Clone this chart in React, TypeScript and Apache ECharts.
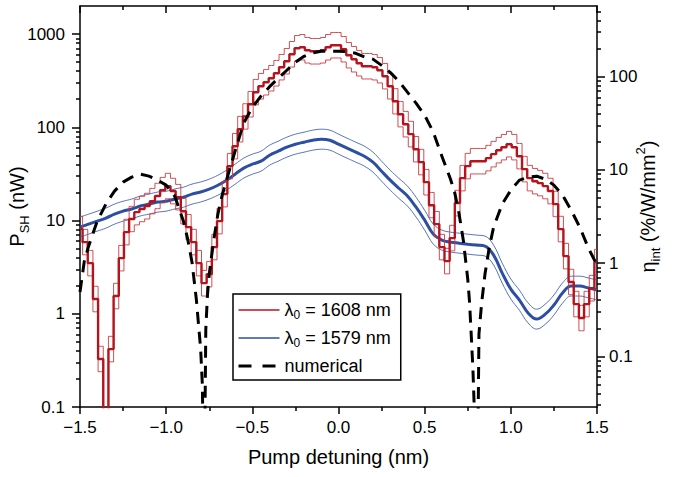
import React, { useEffect, useRef } from "react";
import * as echarts from "echarts";

// ---------- data ----------
const xTickValues = [-1.5, -1.0, -0.5, 0.0, 0.5, 1.0, 1.5];
const pTickValues = [0.1, 1, 10, 100, 1000];
const etaTickValues = [0.1, 1, 10, 100];
const P_MIN = 0.1;
const P_MAX = 2000;
const ETA_PER_P = 0.2861; // right-axis (η_int) value that sits at P_SH = 1 nW

// λ0 = 1608 nm, sampled every 0.03 nm from -1.5 nm (nW)
const RED_START = -1.5;
const RED_STEP = 0.03;
const red1608 = [
  8.09, 5.87, 3.49, 1.44, 0.327, 0.07, 0.418, 1.55, 3.95, 7.51,
  10.4, 12.3, 13.3, 14.3, 16.1, 18.3, 21.2, 23.4, 20.7, 17.8,
  12.6, 8.5, 5.87, 3.49, 2.13, 2.66, 5.19, 9.85, 19.2, 38.3,
  62.7, 95.4, 131, 177, 238, 276, 304, 336, 380, 441,
  511, 607, 704, 722, 670, 654, 654, 670, 722, 759,
  759, 687, 593, 537, 486, 452, 452, 441, 409, 353,
  276, 190, 138, 108, 84.4, 58.2, 42.3, 25.8, 14.6, 9.15,
  5.19, 3.67, 6.48, 15.4, 28.5, 38.3, 43.3, 43.3, 43.3, 46.7,
  51.5, 56.8, 61.2, 65.9, 61.2, 49.0, 35.6, 28.5, 26.4, 25.2,
  23.4, 20.7, 15.0, 8.09, 4.15, 2.19, 1.27, 0.9, 1.27, 1.88,
  3.58,
];
const red1608Upper = [
  11.1, 8.04, 4.78, 1.97, 0.448, 0.096, 0.573, 2.12, 5.41, 10.3,
  14.2, 16.9, 18.2, 19.6, 22.1, 25.1, 29.0, 32.1, 28.4, 24.4,
  17.3, 11.6, 8.04, 4.78, 2.92, 3.64, 7.11, 13.5, 26.3, 52.5,
  85.9, 131, 179, 242, 326, 378, 416, 460, 521, 604,
  700, 832, 964, 989, 918, 896, 896, 918, 989, 1040,
  1040, 941, 812, 736, 666, 619, 619, 604, 560, 484,
  378, 260, 189, 148, 116, 79.7, 58.0, 35.3, 20.0, 12.5,
  7.11, 5.03, 8.88, 21.1, 39.0, 52.5, 59.3, 59.3, 59.3, 64.0,
  70.6, 77.8, 83.8, 90.3, 83.8, 67.1, 48.8, 39.0, 36.2, 34.5,
  32.1, 28.4, 20.6, 11.1, 5.69, 3.0, 1.74, 1.23, 1.74, 2.58,
  4.9,
];
const red1608Lower = [
  5.91, 4.29, 2.55, 1.05, 0.239, 0.051, 0.305, 1.13, 2.88, 5.48,
  7.59, 8.98, 9.71, 10.4, 11.8, 13.4, 15.5, 17.1, 15.1, 13.0,
  9.2, 6.21, 4.29, 2.55, 1.55, 1.94, 3.79, 7.19, 14.0, 28.0,
  45.8, 69.6, 95.6, 129, 174, 201, 222, 245, 277, 322,
  373, 443, 514, 527, 489, 477, 477, 489, 527, 554,
  554, 502, 433, 392, 355, 330, 330, 322, 299, 258,
  201, 139, 101, 78.8, 61.6, 42.5, 30.9, 18.8, 10.7, 6.68,
  3.79, 2.68, 4.73, 11.2, 20.8, 28.0, 31.6, 31.6, 31.6, 34.1,
  37.6, 41.5, 44.7, 48.1, 44.7, 35.8, 26.0, 20.8, 19.3, 18.4,
  17.1, 15.1, 11.0, 5.91, 3.03, 1.6, 0.927, 0.657, 0.927, 1.37,
  2.61,
];

// λ0 = 1579 nm, sampled every 0.05 nm from -1.5 nm (nW)
const BLUE_START = -1.5;
const BLUE_STEP = 0.05;
const blue1579 = [
  8.5, 9.15, 9.85, 10.6, 11.7, 12.6, 13.3, 14.3, 15.0, 15.8,
  16.1, 17.0, 17.8, 19.2, 20.2, 21.7, 23.9, 27.1, 31.4, 36.5,
  40.2, 43.3, 50.2, 55.4, 61.2, 65.9, 69.2, 72.7, 74.5, 72.7,
  65.9, 59.7, 54.1, 49.0, 42.3, 33.8, 27.1, 22.2, 18.3, 13.9,
  10.1, 7.15, 6.17, 5.87, 5.72, 5.58, 5.45, 5.32, 4.26, 2.73,
  1.84, 1.4, 1.02, 0.877, 0.99, 1.24, 1.67, 1.98, 1.98, 1.89,
  1.8,
];
const blue1579Upper = [
  10.9, 11.7, 12.6, 13.6, 15.0, 16.1, 17.0, 18.3, 19.2, 20.2,
  20.6, 21.8, 22.8, 24.6, 25.9, 27.8, 30.6, 34.7, 40.2, 46.7,
  51.5, 55.4, 64.3, 70.9, 78.3, 84.4, 88.6, 93.1, 95.4, 93.1,
  84.4, 76.4, 69.2, 62.7, 54.1, 43.3, 34.7, 28.4, 23.4, 17.8,
  12.9, 9.15, 7.9, 7.51, 7.32, 7.14, 6.98, 6.81, 5.45, 3.49,
  2.36, 1.79, 1.31, 1.12, 1.27, 1.59, 2.14, 2.53, 2.53, 2.42,
  2.3,
];
const blue1579Lower = [
  6.64, 7.15, 7.7, 8.28, 9.14, 9.84, 10.4, 11.2, 11.7, 12.3,
  12.6, 13.3, 13.9, 15.0, 15.8, 17.0, 18.7, 21.2, 24.5, 28.5,
  31.4, 33.8, 39.2, 43.3, 47.8, 51.5, 54.1, 56.8, 58.2, 56.8,
  51.5, 46.6, 42.3, 38.3, 33.0, 26.4, 21.2, 17.3, 14.3, 10.9,
  7.89, 5.59, 4.82, 4.59, 4.47, 4.36, 4.26, 4.16, 3.33, 2.13,
  1.44, 1.09, 0.797, 0.685, 0.773, 0.969, 1.3, 1.55, 1.55, 1.48,
  1.41,
];

// numerical η_int (%/W/mm²) vs detuning (nm)
const numDetuning = [
  -1.5, -1.475, -1.45, -1.4, -1.35, -1.3, -1.25, -1.2, -1.15, -1.1,
  -1.05, -1.0, -0.95, -0.9, -0.875, -0.85, -0.825, -0.8, -0.79, -0.78,
  -0.77, -0.76, -0.75, -0.725, -0.7, -0.675, -0.65, -0.6, -0.55, -0.5,
  -0.45, -0.4, -0.35, -0.3, -0.25, -0.2, -0.15, -0.1, -0.05, 0.0,
  0.05, 0.1, 0.15, 0.2, 0.25, 0.3, 0.35, 0.4, 0.45, 0.5,
  0.55, 0.6, 0.65, 0.675, 0.7, 0.725, 0.75, 0.76, 0.77, 0.78,
  0.79, 0.805, 0.815, 0.82, 0.83, 0.85, 0.875, 0.9, 0.95, 1.0,
  1.05, 1.1, 1.15, 1.2, 1.25, 1.3, 1.35, 1.4, 1.45, 1.5,
];
const numEta = [
  0.49, 1.05, 1.52, 2.82, 4.29, 5.91, 7.38, 8.35, 9.0, 8.56,
  7.76, 6.86, 5.22, 2.82, 1.81, 1.02, 0.411, 0.12, 0.05, 0.002,
  0.196, 0.466, 0.762, 1.72, 3.35, 5.36, 7.76, 15.9, 31.7, 47.0,
  61.7, 78.0, 96.1, 117, 143, 165, 180, 187, 187, 187,
  185, 178, 163, 154, 132, 111, 89.3, 68.1, 51.9, 38.6,
  25.4, 14.0, 7.94, 5.63, 3.35, 1.72, 0.674, 0.392, 0.173, 0.073,
  0.021, 0.002, 0.173, 0.222, 0.364, 0.762, 1.48, 2.43, 4.29, 6.06,
  7.76, 8.35, 8.56, 7.94, 6.86, 5.36, 3.7, 2.43, 1.45, 0.95,
];

// ---------- style ----------
const FONT = '"Liberation Sans", Arial, Helvetica, sans-serif';
const RED = "#b5141c";
const RED_LIGHT = "#cc3a40";
const BLUE = "#2c4ea3";
const BLUE_LIGHT = "#4463b4";
const AXIS_W = 1.5;

const NAME_1608 = "λ0 = 1608 nm";
const NAME_1579 = "λ0 = 1579 nm";
const NAME_NUM = "numerical";

const log10 = (v: number) => Math.log10(v);
const fmtLog = (v: number) => {
  const p = Math.pow(10, v);
  if (p < 0.95) return p.toFixed(1);
  return String(Math.round(p));
};
const fmtX = (v: number) => (v < 0 ? "\u2212" : "") + Math.abs(v).toFixed(1);

const leftMin = log10(P_MIN);
const leftMax = log10(P_MAX);
const rightMin = log10(P_MIN * ETA_PER_P);
const rightMax = log10(P_MAX * ETA_PER_P);

function minorLogs(lo: number, hi: number): number[] {
  const out: number[] = [];
  for (let e = -3; e <= 4; e++) {
    for (let m = 2; m <= 9; m++) {
      const l = e + Math.log10(m);
      if (l > lo + 1e-6 && l < hi - 1e-6) out.push(l);
    }
  }
  return out;
}

const stepped = (arr: number[], start: number, step: number) =>
  arr.map((v, i) => [+(start + i * step).toFixed(4), log10(v)]);

function buildOption(): echarts.EChartsCoreOption {
  const tickLine = { color: "#000", width: AXIS_W };
  const baseY = {
    type: "value",
    splitLine: { show: false },
    axisLine: { show: true, onZero: false, lineStyle: tickLine },
  };
  const subRich = {
    sub: { fontSize: 13, verticalAlign: "bottom", lineHeight: 14, fontFamily: FONT, color: "#000" },
    sup: { fontSize: 13, verticalAlign: "top", lineHeight: 14, fontFamily: FONT, color: "#000" },
  };
  const hiddenSymbol = { opacity: 0, color: "transparent", borderWidth: 0 };

  return {
    animation: false,
    backgroundColor: "#fff",
    textStyle: { fontFamily: FONT, color: "#000" },
    grid: { left: 80, right: 89, top: 6, bottom: 70, containLabel: false, outerBoundsMode: "none" },
    legend: {
      orient: "vertical",
      left: 233,
      top: 294,
      padding: [5, 10, 3, 4],
      itemGap: 6,
      itemWidth: 41,
      itemHeight: 14,
      borderColor: "#000",
      borderWidth: 1.5,
      borderRadius: 0,
      backgroundColor: "#fff",
      itemStyle: hiddenSymbol,
      data: [
        { name: NAME_1608, itemStyle: hiddenSymbol, lineStyle: { width: 1.5, color: RED } },
        { name: NAME_1579, itemStyle: hiddenSymbol, lineStyle: { width: 1.5, color: BLUE } },
        { name: NAME_NUM, itemStyle: hiddenSymbol, lineStyle: { width: 3, color: "#000", type: [13, 11] } },
      ],
      formatter: (name: string) => name.replace("λ0", "λ{sub|0}"),
      textStyle: {
        fontSize: 18,
        lineHeight: 22,
        fontFamily: FONT,
        color: "#000",
        rich: {
          sub: { fontSize: 12, verticalAlign: "bottom", lineHeight: 12, fontFamily: FONT, color: "#000" },
        },
      },
    },
    xAxis: [
      {
        type: "value",
        min: -1.5,
        max: 1.5,
        interval: 0.5,
        position: "bottom",
        splitLine: { show: false },
        axisLine: { show: true, onZero: false, lineStyle: tickLine },
        axisTick: { show: true, length: 7, lineStyle: tickLine },
        minorTick: { show: true, splitNumber: 2, length: 4, lineStyle: tickLine },
        axisLabel: {
          formatter: fmtX,
          fontSize: 17,
          color: "#000",
          fontFamily: FONT,
          margin: 12,
          customValues: xTickValues,
        },
        name: "Pump detuning (nm)",
        nameLocation: "middle",
        nameGap: 40,
        nameMoveOverlap: false,
        nameTextStyle: { fontSize: 20, color: "#000", fontFamily: FONT },
      },
      {
        type: "value",
        min: -1.5,
        max: 1.5,
        interval: 0.5,
        position: "top",
        splitLine: { show: false },
        axisLine: { show: true, onZero: false, lineStyle: tickLine },
        axisTick: { show: true, inside: true, length: 7, lineStyle: tickLine },
        minorTick: { show: true, splitNumber: 2, length: 4, lineStyle: tickLine },
        axisLabel: { show: false },
      },
    ],
    yAxis: [
      {
        ...baseY,
        min: leftMin,
        max: leftMax,
        position: "left",
        axisTick: { show: true, length: 8, lineStyle: tickLine, customValues: pTickValues.map(log10) },
        axisLabel: {
          formatter: fmtLog,
          fontSize: 17,
          color: "#000",
          fontFamily: FONT,
          margin: 15,
          customValues: pTickValues.map(log10),
        },
        name: "P{sub|SH} (nW)",
        nameLocation: "middle",
        nameRotate: 90,
        nameGap: 49,
        nameMoveOverlap: false,
        nameTextStyle: { fontSize: 20, lineHeight: 28, color: "#000", fontFamily: FONT, rich: subRich },
      },
      {
        ...baseY,
        min: rightMin,
        max: rightMax,
        position: "right",
        axisTick: { show: true, length: 8, lineStyle: tickLine, customValues: etaTickValues.map(log10) },
        axisLabel: {
          formatter: fmtLog,
          fontSize: 17,
          color: "#000",
          fontFamily: FONT,
          margin: 12,
          customValues: etaTickValues.map(log10),
        },
        name: "η{sub|int} (%/W/mm{sup|2})",
        nameLocation: "middle",
        nameRotate: 90,
        nameGap: 37,
        nameMoveOverlap: false,
        nameTextStyle: { fontSize: 20, lineHeight: 28, color: "#000", fontFamily: FONT, rich: subRich },
      },
      {
        ...baseY,
        min: leftMin,
        max: leftMax,
        position: "left",
        axisLine: { show: false, onZero: false },
        axisTick: { show: true, length: 4, lineStyle: tickLine, customValues: minorLogs(leftMin, leftMax) },
        axisLabel: { show: false },
      },
      {
        ...baseY,
        min: rightMin,
        max: rightMax,
        position: "right",
        axisLine: { show: false, onZero: false },
        axisTick: { show: true, length: 4, lineStyle: tickLine, customValues: minorLogs(rightMin, rightMax) },
        axisLabel: { show: false },
      },
    ],
    series: [
      {
        name: "1579 upper",
        type: "line",
        data: stepped(blue1579Upper, BLUE_START, BLUE_STEP),
        smooth: 0.4,
        symbol: "none",
        silent: true,
        lineStyle: { color: BLUE_LIGHT, width: 0.9 },
        z: 2,
      },
      {
        name: "1579 lower",
        type: "line",
        data: stepped(blue1579Lower, BLUE_START, BLUE_STEP),
        smooth: 0.4,
        symbol: "none",
        silent: true,
        lineStyle: { color: BLUE_LIGHT, width: 0.9 },
        z: 2,
      },
      {
        name: NAME_1579,
        type: "line",
        color: BLUE,
        data: stepped(blue1579, BLUE_START, BLUE_STEP),
        smooth: 0.4,
        symbol: "none",
        lineStyle: { color: BLUE, width: 3 },
        z: 3,
      },
      {
        name: "1608 upper",
        type: "line",
        data: stepped(red1608Upper, RED_START, RED_STEP),
        step: "middle",
        symbol: "none",
        silent: true,
        lineStyle: { color: RED_LIGHT, width: 0.9 },
        z: 4,
      },
      {
        name: "1608 lower",
        type: "line",
        data: stepped(red1608Lower, RED_START, RED_STEP),
        step: "middle",
        symbol: "none",
        silent: true,
        lineStyle: { color: RED_LIGHT, width: 0.9 },
        z: 4,
      },
      {
        name: NAME_1608,
        type: "line",
        color: RED,
        data: stepped(red1608, RED_START, RED_STEP),
        step: "middle",
        symbol: "none",
        lineStyle: { color: RED, width: 2.4 },
        z: 5,
      },
      {
        name: NAME_NUM,
        type: "line",
        color: "#000",
        yAxisIndex: 1,
        data: numDetuning.map((d, i) => [d, log10(numEta[i])]),
        symbol: "none",
        lineStyle: { color: "#000", width: 3, type: [12, 8], cap: "butt" },
        z: 6,
      },
    ],
  };
}

export default function App() {
  const ref = useRef<HTMLDivElement>(null);
  useEffect(() => {
    if (!ref.current) return;
    const chart = echarts.init(ref.current, null, { renderer: "svg" });
    chart.setOption(buildOption());
    return () => chart.dispose();
  }, []);
  return (
    <div
      ref={ref}
      style={{ position: "fixed", left: 0, top: 0, width: 686, height: 477, background: "#fff" }}
    />
  );
}
